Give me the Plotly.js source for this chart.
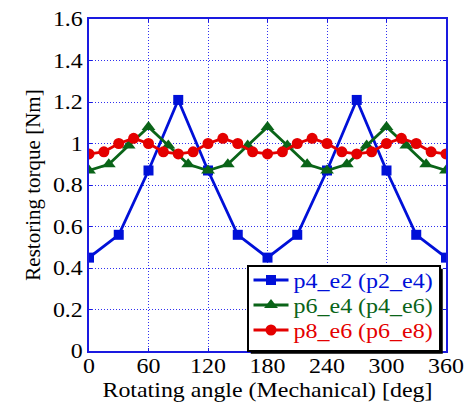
<!DOCTYPE html>
<html>
<head>
<meta charset="utf-8">
<script src="https://cdn.plot.ly/plotly-3.0.1.min.js"></script>
<style>html,body{margin:0;padding:0;background:#fff;}#chart{width:466px;height:402px;}</style>
</head>
<body>
<div id="chart"></div>
<script>
var angleBlue = [0,30,60,90,120,150,180,210,240,270,300,330,360];
var torqueBlue = [0.45,0.56,0.87,1.21,0.87,0.56,0.45,0.56,0.87,1.21,0.87,0.56,0.45];
var angleGreen = [0,20,40,60,80,100,120,140,160,180,200,220,240,260,280,300,320,340,360];
var torqueGreen = [0.87,0.90,0.99,1.08,0.99,0.90,0.87,0.90,0.99,1.08,0.99,0.90,0.87,0.90,0.99,1.08,0.99,0.90,0.87];
var angleRed = [0,15,30,45,60,75,90,105,120,135,150,165,180,195,210,225,240,255,270,285,300,315,330,345,360];
var torqueRed = [0.95,0.96,1.0,1.025,1.0,0.96,0.95,0.96,1.0,1.025,1.0,0.96,0.95,0.96,1.0,1.025,1.0,0.96,0.95,0.96,1.0,1.025,1.0,0.96,0.95];
var names = ['p4_e2 (p2_e4)','p6_e4 (p4_e6)','p8_e6 (p6_e8)'];
var xTicks = [0,60,120,180,240,300,360];
var yTicks = [0,0.2,0.4,0.6,0.8,1,1.2,1.4,1.6];

var cBlue = '#0010d8', cGreen = '#0a6418', cRed = '#e40000';
var traces = [
  {x: angleBlue, y: torqueBlue, name: names[0], mode: 'lines+markers',
   line: {color: cBlue, width: 2.8}, marker: {symbol: 'square', size: 10, color: cBlue}},
  {x: angleGreen, y: torqueGreen, name: names[1], mode: 'lines+markers',
   line: {color: cGreen, width: 2.8}, marker: {symbol: 'triangle-up', size: 12, color: cGreen}},
  {x: angleRed, y: torqueRed, name: names[2], mode: 'lines+markers',
   line: {color: cRed, width: 2.8}, marker: {symbol: 'circle', size: 11, color: cRed}}
];
function mkFont(size, color){ return {family: 'Liberation Serif', size: size, color: color || '#000'}; }
function axisBase(){
  return {
    showline: true, mirror: 'ticks', linecolor: '#1a1ae0', linewidth: 2,
    showgrid: true, gridcolor: '#3030f0', griddash: '1px,2px', gridwidth: 1,
    zeroline: false, ticks: 'inside', ticklen: 3, tickcolor: '#1a1ae0', tickwidth: 1,
    tickfont: mkFont(21)
  };
}
var xaxis = axisBase();
xaxis.range = [0,360]; xaxis.tickvals = xTicks;
xaxis.ticklabelstandoff = -5;
xaxis.title = {text: 'Rotating angle (Mechanical) [deg]', font: mkFont(21), standoff: 4};
var yaxis = axisBase();
yaxis.range = [0,1.6]; yaxis.tickvals = yTicks;
yaxis.title = {text: 'Restoring torque [Nm]', font: mkFont(21), standoff: 10};
var layout = {
  width: 466, height: 402,
  margin: {l: 89, r: 20, t: 19, b: 51},
  paper_bgcolor: '#fff', plot_bgcolor: '#fff',
  font: mkFont(21),
  showlegend: true,
  xaxis: xaxis, yaxis: yaxis,
  legend: {x: 0.4426, y: 0.259, xanchor: 'left', yanchor: 'top',
    bgcolor: '#fff', bordercolor: '#000', borderwidth: 1.5, itemwidth: 35,
    font: mkFont(20), tracegroupgap: 0}
};

// widen horizontal glyphs (reference text is horizontally stretched)
function stretch(el, s){
  var x = parseFloat(el.getAttribute('x')) || 0;
  var t = el.getAttribute('transform') || '';
  el.setAttribute('transform', t + ' translate(' + x + ',0) scale(' + s + ',1) translate(' + (-x) + ',0)');
}
var gd = document.getElementById('chart');
Plotly.newPlot(gd, traces, layout, {displayModeBar: false, staticPlot: true}).then(function(){
  gd.querySelectorAll('.xtick text, .ytick text, .g-xtitle text').forEach(function(el){ stretch(el, 1.14); });
  var cols = [cBlue, cGreen, cRed];
  var leg = gd.querySelector('.legend');
  var bg = leg.querySelector('rect.bg');
  var lt = leg.querySelectorAll('.legendtext');
  lt.forEach(function(el, i){ el.style.fill = cols[i]; stretch(el, 1.2); });
  var sb = leg.querySelector('.scrollbox');
  if (sb) sb.removeAttribute('clip-path');
  // tighten row spacing of legend entries
  var first = null;
  leg.querySelectorAll('g.traces').forEach(function(it, i){
    var m = /translate\(\s*([-\d.]+)[ ,]+([-\d.]+)\s*\)/.exec(it.getAttribute('transform') || '');
    if (!m) return;
    var a = +m[1], b = +m[2];
    if (first === null) first = b;
    it.setAttribute('transform', 'translate(' + a + ',' + (first - 6 + i * 25) + ')');
  });
  var b0 = bg.getBoundingClientRect();
  var maxR = b0.left;
  lt.forEach(function(el){ maxR = Math.max(maxR, el.getBoundingClientRect().right); });
  var w = Math.round(maxR - b0.left + 7);
  var h = 85;
  bg.setAttribute('width', w);
  bg.setAttribute('height', h);
  var bx = parseFloat(bg.getAttribute('x')) || 0, by = parseFloat(bg.getAttribute('y')) || 0;
  var sh = document.createElementNS('http://www.w3.org/2000/svg', 'rect');
  sh.setAttribute('x', bx + 3); sh.setAttribute('y', by + 3);
  sh.setAttribute('width', w); sh.setAttribute('height', h);
  sh.setAttribute('fill', '#000');
  leg.insertBefore(sh, bg);
});
</script>
</body>
</html>
